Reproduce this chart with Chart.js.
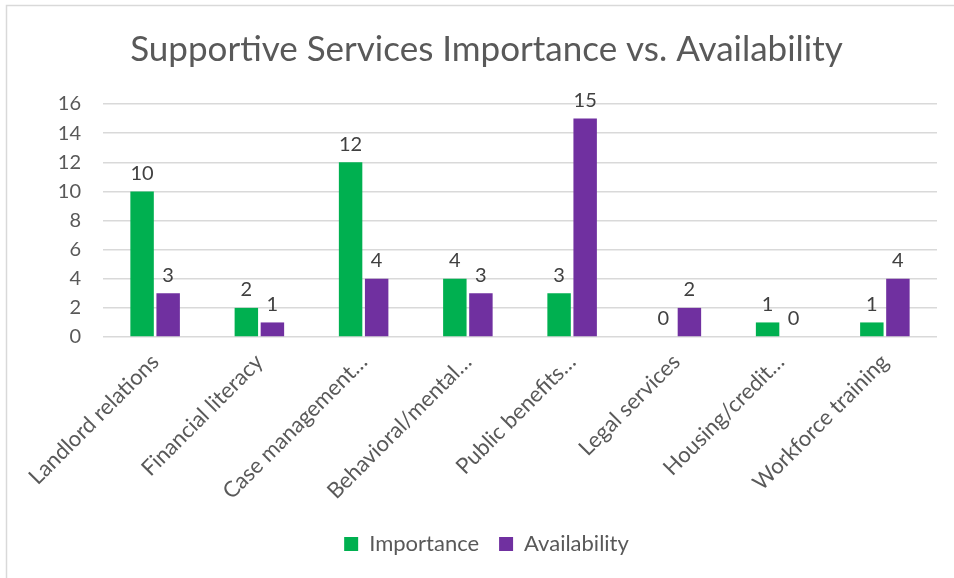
<!DOCTYPE html>
<html lang="en">
<head>
    <meta charset="UTF-8">
    <title>Supportive Services Importance vs. Availability</title>
    <script src="https://cdn.jsdelivr.net/npm/chart.js"></script>
    <style>
        html, body { margin: 0; padding: 0; background: #fff; overflow: hidden; }
        .chart-container { width: 980px; height: 578px; position: relative; }
    </style>
</head>
<body>
    <div class="chart-container">
        <canvas id="servicesChart"></canvas>
    </div>

    <script>
        const categories = [
            'Landlord relations',
            'Financial literacy',
            'Case management\u2026',
            'Behavioral/mental\u2026',
            'Public benefits\u2026',
            'Legal services',
            'Housing/credit\u2026',
            'Workforce training'
        ];
        const importance = [10, 2, 12, 4, 3, 0, 1, 1];
        const availability = [3, 1, 4, 3, 15, 2, 0, 4];
        const yTicks = [0, 2, 4, 6, 8, 10, 12, 14, 16];

        const FONT = 'Lato, "Open Sans", sans-serif';
        const TEXT = '#595959';

        // frame lines along the top and left edge of the chart box
        const framePlugin = {
            id: 'frame',
            beforeDraw(chart) {
                const ctx = chart.ctx;
                ctx.save();
                ctx.strokeStyle = '#d9d9d9';
                ctx.lineWidth = 1.5;
                ctx.beginPath();
                ctx.moveTo(6.5, chart.height);
                ctx.lineTo(6.5, 5.5);
                ctx.lineTo(chart.width, 5.5);
                ctx.stroke();
                ctx.restore();
            }
        };

        // value labels above each bar
        const valueLabels = {
            id: 'valueLabels',
            afterDatasetsDraw(chart) {
                const ctx = chart.ctx;
                ctx.save();
                ctx.font = '20px ' + FONT;
                ctx.fillStyle = '#404040';
                ctx.textAlign = 'center';
                ctx.textBaseline = 'bottom';
                chart.data.datasets.forEach((ds, i) => {
                    chart.getDatasetMeta(i).data.forEach((bar, j) => {
                        ctx.fillText(ds.data[j], bar.x, bar.y - 8);
                    });
                });
                ctx.restore();
            }
        };

        const ctx = document.getElementById('servicesChart').getContext('2d');
        new Chart(ctx, {
            type: 'bar',
            data: {
                labels: categories,
                datasets: [
                    { label: 'Importance', data: importance, backgroundColor: '#00b050' },
                    { label: 'Availability', data: availability, backgroundColor: '#7030a0' }
                ]
            },
            options: {
                responsive: true,
                maintainAspectRatio: false,
                animation: false,
                datasets: { bar: { categoryPercentage: 0.5, barPercentage: 0.9 } },
                layout: { padding: { top: 10, left: 36, right: 43, bottom: 13 } },
                plugins: {
                    title: {
                        display: true,
                        text: 'Supportive Services Importance vs. Availability',
                        color: TEXT,
                        font: { family: FONT, size: 35, weight: 'normal' },
                        padding: { top: 19, bottom: 33 }
                    },
                    legend: {
                        position: 'bottom',
                        labels: {
                            color: TEXT,
                            font: { family: FONT, size: 22 },
                            boxWidth: 14,
                            boxHeight: 14,
                            padding: 20
                        }
                    },
                    tooltip: { enabled: false }
                },
                scales: {
                    x: {
                        grid: { display: false },
                        border: { display: false },
                        ticks: {
                            color: TEXT,
                            font: { family: FONT, size: 22 },
                            minRotation: 45,
                            maxRotation: 45,
                            autoSkip: false,
                            padding: 4
                        },
                        afterFit(scale) { scale.height = 176; }
                    },
                    y: {
                        min: 0,
                        max: 16,
                        afterBuildTicks(scale) { scale.ticks = yTicks.map(v => ({ value: v })); },
                        grid: { color: '#d9d9d9', lineWidth: 1.5, drawTicks: false },
                        border: { display: false },
                        ticks: {
                            color: TEXT,
                            font: { family: FONT, size: 20 },
                            padding: 22
                        },
                        afterFit(scale) { scale.width = 67; }
                    }
                }
            },
            plugins: [framePlugin, valueLabels]
        });
    </script>
</body>
</html>
